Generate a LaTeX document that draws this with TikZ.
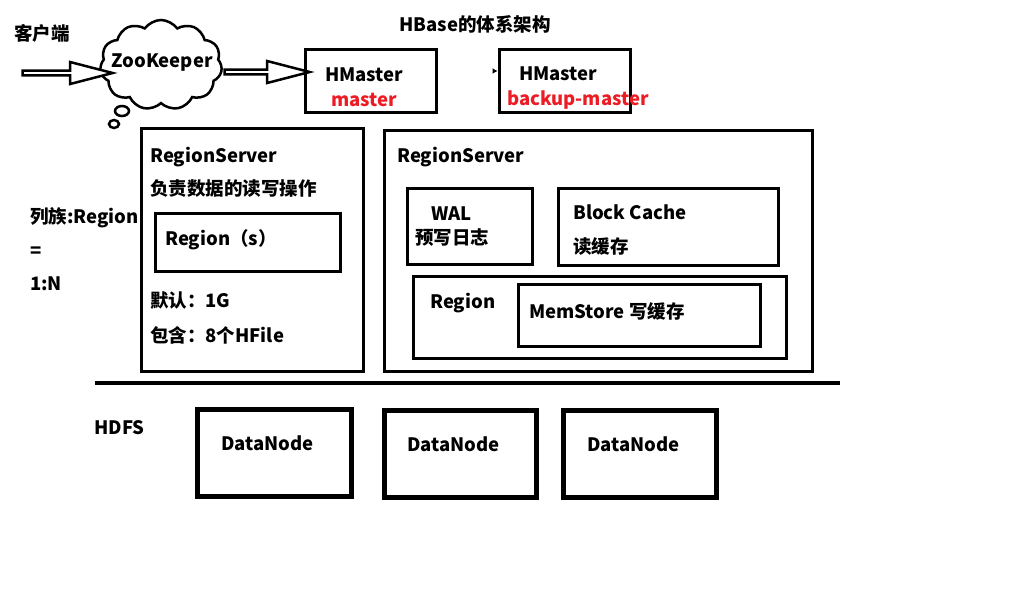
\documentclass[tikz,border=0pt]{standalone}
\usepackage{fontspec}
\setmainfont{Noto Sans CJK SC}
\usetikzlibrary{shapes.symbols,shapes.arrows,arrows.meta}
\definecolor{paintred}{RGB}{237,28,36}
\tikzset{
  txt/.style={anchor=west, inner sep=0pt, yshift=-3.5pt, font=\fontsize{18.5}{20}\selectfont\bfseries,
    text height=0.8em, text depth=0.2em},
  box/.style={draw, line width=3pt, inner sep=0pt},
  dnbox/.style={draw, line width=5pt, inner sep=0pt, minimum height=87pt},
  hollow/.style={single arrow, draw, fill=white, line width=2.5pt, inner sep=0pt, minimum width=22pt,
    single arrow head extend=4.5pt, single arrow tip angle=29},
}

\begin{document}
\begin{tikzpicture}[x=1pt,y=-1pt]
  \useasboundingbox (0,0) rectangle (1011,598);

  % top row
  \node[txt] (client) at (14,34) {客户端};
  \node[txt, anchor=center] (title) at (475,25) {HBase的体系架构};
  \node[cloud, draw, line width=2.5pt, cloud puffs=11, cloud puff arc=110, aspect=1.35,
    minimum width=122pt, minimum height=90pt, inner sep=0pt] (zk) at (161,65) {};
  \draw[line width=2.5pt] (122,111) ellipse [x radius=7, y radius=5];
  \draw[line width=2.5pt] (114,124) ellipse [x radius=5, y radius=4];
  \node[txt, anchor=center] (zktxt) at (162,61) {ZooKeeper};
  \node[hollow, minimum height=90pt] (arr1) at (63,73) {};
  \node[hollow, minimum height=85pt] (arr2) at (262.5,72) {};

  \node[box, minimum width=131pt, minimum height=63pt] (hm1) at (370.5,80.5) {};
  \node[txt] (hm1t) at (325,75) {HMaster};
  \node[txt, text=paintred] (hm1r) at (331,100) {master};
  \node[box, minimum width=131pt, minimum height=63pt] (hm2) at (564.5,80.5) {};
  \node[txt] (hm2t) at (519,74) {HMaster};
  \node[txt, text=paintred] (hm2r) at (507,99) {backup-master};
  \coordinate (bk) at (493,71);
  \draw[line width=2pt, -{Latex[length=5pt,width=6pt]}] (bk) -- (hm2.west |- bk);

  % left notes
  \node[txt] (cf1) at (30,217) {列族:Region};
  \node[txt] (cf2) at (30,251) {=};
  \node[txt] (cf3) at (30,284) {1:N};

  % RegionServer 1
  \node[box, minimum width=222pt, minimum height=243pt] (rs1) at (252,249.5) {};
  \node[txt] (rs1t) at (150,156) {RegionServer};
  \node[txt] (rs1d) at (150,189) {负责数据的读写操作};
  \node[box, minimum width=185pt, minimum height=58pt] (regs) at (247.5,242) {};
  \node[txt] (regst) at (165,239) {Region（s）};
  \node[txt] (dflt) at (150,301) {默认：1G};
  \node[txt] (hfile) at (150,336) {包含：8个HFile};

  % RegionServer 2
  \node[box, minimum width=428pt, minimum height=241pt] (rs2) at (598,250.5) {};
  \node[txt] (rs2t) at (397,156) {RegionServer};
  \node[box, minimum width=125pt, minimum height=76pt] (wal) at (469.5,226) {};
  \node[txt] (walt) at (431,214) {WAL};
  \node[txt] (wald) at (415,238) {预写日志};
  \node[box, minimum width=220pt, minimum height=77pt] (bc) at (668,226.5) {};
  \node[txt] (bct) at (573,213) {Block Cache};
  \node[txt] (bcd) at (573,247) {读缓存};
  \node[box, minimum width=373pt, minimum height=82pt] (reg) at (599.5,317) {};
  \node[txt] (regt) at (430,302) {Region};
  \node[box, minimum width=242pt, minimum height=62pt] (mem) at (639,315) {};
  \node[txt] (memt) at (529,312) {MemStore 写缓存};

  \draw[line width=4pt] (95,383) -- (840,383);

  % HDFS
  \node[txt] (hdfs) at (94,428) {HDFS};
  \node[dnbox, minimum width=154pt] (dn1) at (274,452.5) {};
  \node[txt] (dn1t) at (221,444) {DataNode};
  \node[dnbox, minimum width=152pt] (dn2) at (460,453.5) {};
  \node[txt] (dn2t) at (407,445) {DataNode};
  \node[dnbox, minimum width=153pt] (dn3) at (639.5,453.5) {};
  \node[txt] (dn3t) at (587,445) {DataNode};
\end{tikzpicture}
\end{document}
